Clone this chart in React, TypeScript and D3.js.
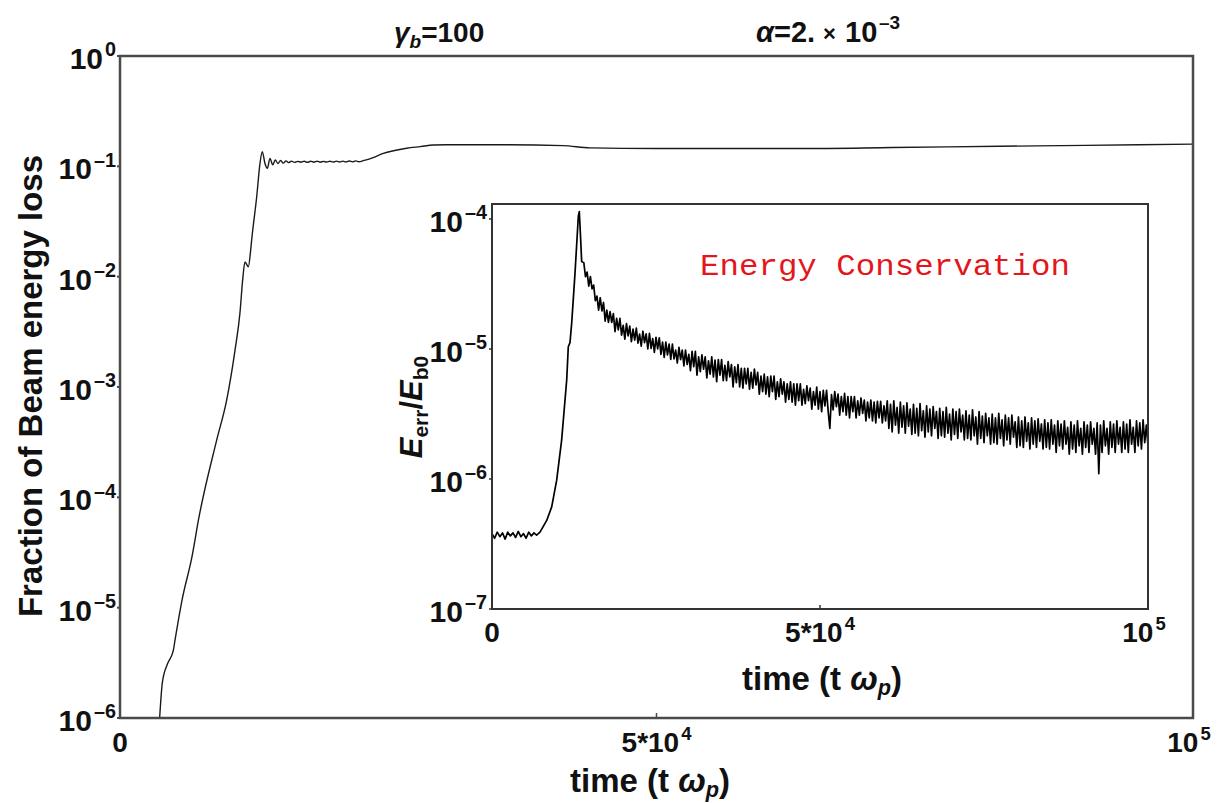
import React from "react";
import * as d3 from "d3";

const W = 1221;
const H = 803;

// time values are given in units of 10^3 (ω_p^-1)
const T_UNIT = 1000;

// Main panel: fraction of beam energy loss vs time
const mainSeries: [number, number][] = [
  [3.68, 9.5e-7], [3.95, 2.1e-6], [4.43, 3.1e-6], [4.97, 4.1e-6], [5.13, 5.1e-6],
  [5.78, 1.17e-5], [6.71, 2.9e-5], [7.36, 6.6e-5], [9.01, 3.3e-4], [9.94, 7.6e-4],
  [10.72, 2.16e-3], [11.18, 4.7e-3], [11.43, 9.3e-3], [11.65, 1.36e-2], [11.96, 1.23e-2],
  [12.18, 1.75e-2], [12.27, 2.15e-2], [12.74, 5.3e-2], [13.05, 0.107], [13.26, 0.136],
  [13.51, 0.106], [13.73, 0.096], [13.98, 0.118], [14.23, 0.103], [14.47, 0.114],
  [14.72, 0.106], [14.97, 0.113], [15.22, 0.107], [15.47, 0.112], [15.72, 0.108],
  [15.97, 0.1115], [16.27, 0.1085], [16.57, 0.111], [16.87, 0.109], [17.17, 0.1112],
  [17.47, 0.1088], [17.77, 0.1112], [18.07, 0.109], [18.37, 0.1112], [18.67, 0.109],
  [18.97, 0.111], [19.27, 0.1092], [19.57, 0.1112], [19.87, 0.1092], [20.17, 0.1115],
  [20.47, 0.1095], [20.77, 0.1115], [21.07, 0.1095], [21.37, 0.1118], [21.67, 0.1098],
  [21.97, 0.112], [22.27, 0.1102], [22.67, 0.1125], [23.6, 0.12], [24.54, 0.131],
  [25.6, 0.139], [26.72, 0.146], [28.0, 0.151], [29.2, 0.156], [30.45, 0.157],
  [35.0, 0.157], [41.3, 0.154], [43.8, 0.147], [50.0, 0.145], [63.4, 0.145],
  [72.0, 0.148], [82.0, 0.152], [90.0, 0.155], [100.0, 0.159],
];

// Inset: energy error E_err/E_b0, values in units of 10^-6
const ERR_UNIT = 1e-6;
const errSeries: [number, number][] = [
  [0, 0.38], [0.4, 0.35], [0.8, 0.39], [1.2, 0.36], [1.6, 0.385], [2.0, 0.345],
  [2.4, 0.39], [2.8, 0.365], [3.2, 0.385], [3.6, 0.355], [4.0, 0.395], [4.4, 0.36],
  [4.8, 0.38], [5.2, 0.35], [5.6, 0.39], [6.0, 0.365], [6.4, 0.385], [6.8, 0.37],
  [7.32, 0.39], [8.34, 0.48], [9.1, 0.61], [9.86, 0.98], [10.62, 2.0], [11.13, 4.05],
  [11.39, 5.8], [11.63, 10.4], [11.89, 11.2], [12.15, 15.9], [12.65, 38], [13.16, 105],
  [13.31, 114], [13.52, 69], [13.67, 47],
  [14.0, 46], [14.25, 36], [14.5, 39], [14.75, 30.5], [15.0, 36], [15.25, 29], [15.5, 31], [15.75, 23.5],
  [16.0, 25.5], [16.25, 19.9], [16.5, 24.8], [16.75, 19.6], [17.0, 22.8], [17.25, 16.4], [17.5, 19.9], [17.75, 16.0],
  [18.0, 19.4], [18.25, 16.0], [18.5, 18.7], [18.75, 13.6], [19.0, 17.2], [19.25, 14.0], [19.5, 17.2], [19.75, 12.8],
  [20.0, 15.2], [20.25, 11.9], [20.5, 15.7], [20.75, 12.6], [21.0, 15.0], [21.25, 11.4], [21.5, 14.2], [21.75, 11.7],
  [22.0, 14.5], [22.25, 11.1], [22.5, 13.0], [22.75, 10.5], [23.0, 13.7], [23.25, 11.2], [23.5, 13.1], [23.75, 10.0],
  [24.0, 13.2], [24.25, 10.1], [24.5, 12.0], [24.75, 9.4], [25.0, 12.3], [25.25, 10.0], [25.5, 12.2], [25.75, 9.1],
  [26.0, 11.3], [26.25, 8.6], [26.5, 11.3], [26.75, 9.0], [27.0, 10.9], [27.25, 8.3], [27.5, 10.9], [27.75, 8.4],
  [28.0, 9.8], [28.25, 7.8], [28.5, 10.3], [28.75, 8.3], [29.0, 9.8], [29.25, 7.4], [29.5, 9.8], [29.75, 7.6],
  [30.0, 9.1], [30.25, 6.8], [30.5, 9.6], [30.75, 7.3], [31.0, 9.6], [31.25, 6.3], [31.5, 8.7], [31.75, 6.7],
  [32.0, 9.0], [32.25, 7.0], [32.5, 8.7], [32.75, 6.0], [33.0, 8.1], [33.25, 6.4], [33.5, 8.7], [33.75, 6.1],
  [34.0, 8.2], [34.25, 5.6], [34.5, 8.3], [34.75, 6.3], [35.0, 8.3], [35.25, 5.7], [35.5, 7.5], [35.75, 5.7],
  [36.0, 8.0], [36.25, 6.1], [36.5, 7.6], [36.75, 5.1], [37.0, 7.3], [37.25, 5.5], [37.5, 7.6], [37.75, 5.1],
  [38.0, 7.1], [38.25, 5.0], [38.5, 7.1], [38.75, 5.4], [39.0, 7.1], [39.25, 4.9], [39.5, 6.6], [39.75, 5.0],
  [40.0, 7.0], [40.25, 5.3], [40.5, 6.6], [40.75, 4.5], [41.0, 6.2], [41.25, 4.7], [41.5, 6.4], [41.75, 4.5],
  [42.0, 6.1], [42.25, 4.3], [42.5, 6.2], [42.75, 4.7], [43.0, 6.2], [43.25, 4.1], [43.5, 5.6], [43.75, 4.3],
  [44.0, 5.9], [44.25, 4.5], [44.5, 5.6], [44.75, 3.9], [45.0, 5.4], [45.25, 4.1], [45.5, 5.6], [45.75, 3.9],
  [46.0, 5.4], [46.25, 3.7], [46.5, 5.4], [46.75, 4.0], [47.0, 5.4], [47.25, 3.7], [47.5, 4.9], [47.75, 3.8],
  [48.0, 5.2], [48.25, 4.0], [48.5, 5.0], [48.75, 3.45], [49.0, 4.7], [49.25, 3.7], [49.5, 5.1], [49.75, 3.45],
  [50.0, 4.7], [50.25, 3.3], [50.5, 4.8], [50.75, 3.65], [51.0, 4.8], [51.25, 3.3], [51.5, 2.45], [51.75, 4.45],
  [52.0, 3.4], [52.25, 4.7], [52.5, 3.6], [52.75, 4.5], [53.0, 3.1], [53.25, 4.3], [53.5, 3.3], [53.75, 4.55],
  [54.0, 3.1], [54.25, 4.3], [54.5, 2.95], [54.75, 4.3], [55.0, 3.3], [55.25, 4.3], [55.5, 2.95], [55.75, 4.0],
  [56.0, 3.1], [56.25, 4.2], [56.5, 3.2], [56.75, 4.05], [57.0, 2.8], [57.25, 3.9], [57.5, 2.95], [57.75, 4.05],
  [58.0, 2.8], [58.25, 3.9], [58.5, 2.7], [58.75, 3.95], [59.0, 2.95], [59.25, 3.95], [59.5, 2.7], [59.75, 3.65],
  [60.0, 2.8], [60.25, 4.0], [60.5, 2.45], [60.75, 3.75], [61.0, 2.3], [61.25, 4.0], [61.5, 2.6], [61.75, 3.55],
  [62.0, 2.25], [62.25, 3.9], [62.5, 2.5], [62.75, 3.65], [63.0, 2.25], [63.25, 3.85], [63.5, 2.55], [63.75, 3.45],
  [64.0, 2.2], [64.25, 3.75], [64.5, 2.25], [64.75, 3.5], [65.0, 2.15], [65.25, 3.8], [65.5, 2.35], [65.75, 3.35],
  [66.0, 2.1], [66.25, 3.65], [66.5, 2.3], [66.75, 3.45], [67.0, 2.15], [67.25, 3.6], [67.5, 2.45], [67.75, 3.3],
  [68.0, 2.05], [68.25, 3.5], [68.5, 2.15], [68.75, 3.3], [69.0, 2.1], [69.25, 3.55], [69.5, 2.25], [69.75, 3.15],
  [70.0, 2.0], [70.25, 3.45], [70.5, 2.2], [70.75, 3.3], [71.0, 2.05], [71.25, 3.45], [71.5, 2.3], [71.75, 3.1],
  [72.0, 2.0], [72.25, 3.35], [72.5, 2.05], [72.75, 3.1], [73.0, 2.0], [73.25, 3.4], [73.5, 2.15], [73.75, 3.0],
  [74.0, 1.85], [74.25, 3.3], [74.5, 2.05], [74.75, 3.05], [75.0, 1.9], [75.25, 3.2], [75.5, 2.15], [75.75, 2.95],
  [76.0, 1.85], [76.25, 3.15], [76.5, 1.9], [76.75, 2.95], [77.0, 1.85], [77.25, 3.2], [77.5, 2.05], [77.75, 2.85],
  [78.0, 1.8], [78.25, 3.1], [78.5, 2.0], [78.75, 2.95], [79.0, 1.85], [79.25, 3.1], [79.5, 2.1], [79.75, 2.75],
  [80.0, 1.75], [80.25, 3.0], [80.5, 1.8], [80.75, 2.8], [81.0, 1.75], [81.25, 3.0], [81.5, 1.95], [81.75, 2.7],
  [82.0, 1.7], [82.25, 2.95], [82.5, 1.85], [82.75, 2.8], [83.0, 1.75], [83.25, 2.9], [83.5, 1.95], [83.75, 2.65],
  [84.0, 1.7], [84.25, 2.85], [84.5, 1.75], [84.75, 2.7], [85.0, 1.7], [85.25, 2.85], [85.5, 1.85], [85.75, 2.6],
  [86.0, 1.6], [86.25, 2.8], [86.5, 1.8], [86.75, 2.65], [87.0, 1.7], [87.25, 2.8], [87.5, 1.85], [87.75, 2.5],
  [88.0, 1.55], [88.25, 2.75], [88.5, 1.7], [88.75, 2.6], [89.0, 1.6], [89.25, 2.8], [89.5, 1.8], [89.75, 2.45],
  [90.0, 1.55], [90.25, 2.75], [90.5, 1.75], [90.75, 2.6], [91.0, 1.6], [91.25, 2.75], [91.5, 1.85], [91.75, 2.45],
  [92.0, 1.55], [92.25, 2.7], [92.5, 1.1], [92.75, 2.6], [93.0, 1.6], [93.25, 2.8], [93.5, 1.8], [93.75, 2.45],
  [94.0, 1.55], [94.25, 2.75], [94.5, 1.75], [94.75, 2.65], [95.0, 1.6], [95.25, 2.8], [95.5, 1.85], [95.75, 2.5],
  [96.0, 1.6], [96.25, 2.75], [96.5, 1.7], [96.75, 2.65], [97.0, 1.6], [97.25, 2.85], [97.5, 1.85], [97.75, 2.5],
  [98.0, 1.6], [98.25, 2.8], [98.5, 1.8], [98.75, 2.7], [99.0, 1.7], [99.25, 2.85], [99.5, 1.9], [99.75, 2.6],
  [100.0, 1.8],
];

const mainYExps = [0, -1, -2, -3, -4, -5, -6];
const insetYExps = [-4, -5, -6, -7];
const xTickValues = [0, 5e4, 1e5];
const xTickBases = ["0", "5*10", "10"];
const xTickSups = ["", "4", "5"];

const FONT = "'Liberation Sans', Arial, Helvetica, sans-serif";
const MONO = "'Liberation Mono', 'Courier New', monospace";
const INK = "#111";
const MINUS = "\u2013";

// Liberation Sans Bold advance widths (em)
const CW: Record<string, number> = {
  "0": 0.556, "1": 0.556, "2": 0.556, "3": 0.556, "4": 0.556, "5": 0.556,
  "6": 0.556, "7": 0.556, "8": 0.556, "9": 0.556, "\u2013": 0.556, "*": 0.389, ".": 0.278,
};
function textW(s: string, size: number) {
  let w = 0;
  for (const ch of s) w += (CW[ch] ?? 0.556) * size;
  return w;
}

function PowLabel(props: {
  x: number; y: number; base: string; sup: string; size: number;
  anchor: "start" | "middle" | "end";
}) {
  const { x, y, base, sup, size, anchor } = props;
  const supSize = size * 0.66;
  const gap = sup ? 2 : 0;
  const baseW = textW(base, size);
  const supW = sup ? textW(sup, supSize) : 0;
  const total = baseW + gap + supW;
  const left = anchor === "end" ? x - total : anchor === "middle" ? x - total / 2 : x;
  return (
    <g fontWeight="bold" fontFamily={FONT} fill={INK}>
      <text x={left} y={y} fontSize={size}>{base}</text>
      {sup && (
        <text x={left + baseW + gap} y={y - size * 0.42} fontSize={supSize}>{sup}</text>
      )}
    </g>
  );
}

function TimeLabel(props: { x: number; y: number; size: number }) {
  const { x, y, size } = props;
  return (
    <text x={x} y={y} textAnchor="middle" fontSize={size} fontWeight="bold" fontFamily={FONT} fill={INK}>
      <tspan>time (t </tspan>
      <tspan fontStyle="italic">ω</tspan>
      <tspan fontStyle="italic" fontSize={size * 0.66} dy={size * 0.16}>p</tspan>
      <tspan dy={-size * 0.16}>)</tspan>
    </text>
  );
}

export default function App() {
  // main panel frame
  const mL = 120, mR = 1193, mT = 56, mB = 718;
  // inset frame
  const iL = 492, iR = 1148, iT = 204, iB = 609;
  const insetDecade = 130;

  const xMain = d3.scaleLinear().domain([0, 1e5]).range([mL, mR]);
  const yMain = d3.scaleLog().domain([1e-6, 1]).range([mB, mT]);
  const xIn = d3.scaleLinear().domain([0, 1e5]).range([iL, iR]);
  const yIn = d3.scaleLog().domain([1e-7, 1e-4]).range([iB, iB - 3 * insetDecade]);

  const mainLine = d3.line<[number, number]>()
    .x((d) => xMain(d[0] * T_UNIT))
    .y((d) => yMain(d[1]))
    .curve(d3.curveMonotoneX);
  const errLine = d3.line<[number, number]>()
    .x((d) => xIn(d[0] * T_UNIT))
    .y((d) => yIn(d[1] * ERR_UNIT));

  return (
    <svg width={W} height={H} viewBox={`0 0 ${W} ${H}`} style={{ display: "block", position: "absolute", left: 0, top: 0, background: "#fff" }}>
      <defs>
        <clipPath id="clipMain">
          <rect x={mL} y={mT} width={mR - mL} height={mB - mT} />
        </clipPath>
        <clipPath id="clipIn">
          <rect x={iL} y={iT} width={iR - iL} height={iB - iT} />
        </clipPath>
      </defs>
      <rect x={0} y={0} width={W} height={H} fill="#fff" />

      {/* Title */}
      <text x={394} y={42} fontSize={28} fontWeight="bold" fontFamily={FONT} fill={INK}>
        <tspan fontStyle="italic">γ</tspan>
        <tspan fontStyle="italic" fontSize={19} dy={6}>b</tspan>
        <tspan dy={-6}>=100</tspan>
      </text>
      <g fontWeight="bold" fontFamily={FONT} fill={INK}>
        <text x={756} y={42} fontSize={29}>
          <tspan fontStyle="italic">α</tspan>
          <tspan>=2.</tspan>
        </text>
        <text x={823} y={41} fontSize={22}>×</text>
        <text x={845} y={42} fontSize={29}>10</text>
        <text x={879} y={29} fontSize={19}>{MINUS}3</text>
      </g>

      {/* Main curve */}
      <path d={mainLine(mainSeries) ?? ""} fill="none" stroke="#1a1a1a" strokeWidth={1.4} clipPath="url(#clipMain)" />

      {/* Main frame */}
      <rect x={mL} y={mT} width={mR - mL} height={mB - mT} fill="none" stroke="#4a4a4a" strokeWidth={2.5} />

      {/* Main y ticks and labels */}
      {mainYExps.map((e) => {
        const yy = yMain(Math.pow(10, e));
        return (
          <g key={`my${e}`}>
            <line x1={mL - 3} x2={mL} y1={yy} y2={yy} stroke="#4a4a4a" strokeWidth={2} />
            <PowLabel x={116} y={yy + 13} base="10" sup={e === 0 ? "0" : `${MINUS}${-e}`} size={30} anchor="end" />
          </g>
        );
      })}

      {/* Main x ticks and labels */}
      {xTickValues.map((v, i) => {
        const xx = xMain(v);
        return (
          <g key={`mx${i}`}>
            <line x1={xx} x2={xx} y1={mB} y2={mB - 5} stroke="#4a4a4a" strokeWidth={1.5} />
            <PowLabel x={i === 2 ? xx - 4 : xx} y={752} base={xTickBases[i]} sup={xTickSups[i]} size={28} anchor="middle" />
          </g>
        );
      })}

      {/* Main axis titles */}
      <text transform="translate(42,386) rotate(-90)" textAnchor="middle" fontSize={33} fontWeight="bold" fontFamily={FONT} fill={INK}>
        Fraction of Beam energy loss
      </text>
      <TimeLabel x={650} y={792} size={33} />

      {/* Inset */}
      <rect x={iL} y={iT} width={iR - iL} height={iB - iT} fill="#fff" stroke="none" />
      <path d={errLine(errSeries) ?? ""} fill="none" stroke="#000" strokeWidth={1.7} strokeLinejoin="round" clipPath="url(#clipIn)" />
      <rect x={iL} y={iT} width={iR - iL} height={iB - iT} fill="none" stroke="#333" strokeWidth={2} />

      {insetYExps.map((e) => {
        const yy = yIn(Math.pow(10, e));
        return (
          <g key={`iy${e}`}>
            <line x1={iL - 3} x2={iL} y1={yy} y2={yy} stroke="#333" strokeWidth={1.5} />
            <PowLabel x={487} y={yy + 13} base="10" sup={`${MINUS}${-e}`} size={30} anchor="end" />
          </g>
        );
      })}
      {xTickValues.map((v, i) => {
        const xx = xIn(v);
        return (
          <g key={`ix${i}`}>
            <line x1={xx} x2={xx} y1={iB} y2={iB - 4} stroke="#333" strokeWidth={1.5} />
            <PowLabel x={i === 2 ? xx - 4 : xx} y={642} base={xTickBases[i]} sup={xTickSups[i]} size={28} anchor="middle" />
          </g>
        );
      })}
      <TimeLabel x={822} y={690} size={33} />

      <text transform="translate(422,407) rotate(-90)" textAnchor="middle" fontSize={31} fontWeight="bold" fontFamily={FONT} fill={INK}>
        <tspan fontStyle="italic">E</tspan>
        <tspan fontSize={21} dy={6}>err</tspan>
        <tspan dy={-6}>/</tspan>
        <tspan fontStyle="italic">E</tspan>
        <tspan fontSize={21} dy={6}>b0</tspan>
      </text>

      <text x={700} y={275} fontSize={30} fontFamily={MONO} fill="#e3161b" textLength={370} lengthAdjust="spacingAndGlyphs">
        Energy Conservation
      </text>
    </svg>
  );
}
